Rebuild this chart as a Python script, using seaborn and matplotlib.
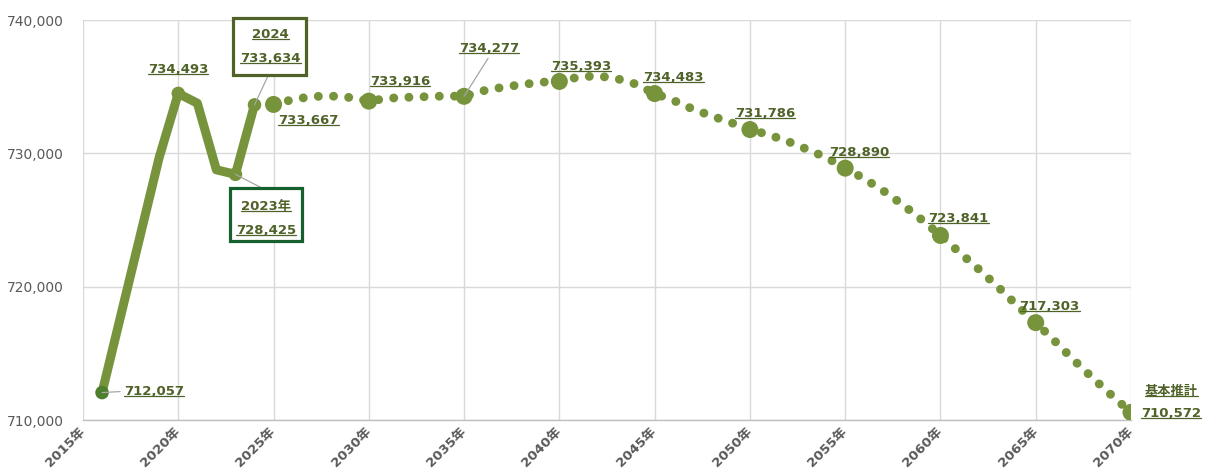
import matplotlib
matplotlib.use("Agg")
import matplotlib.pyplot as plt
import seaborn as sns
from matplotlib.lines import Line2D
from matplotlib.patches import Rectangle
from matplotlib.transforms import IdentityTransform

# ---------------- data ----------------
actual_years = [2016, 2019, 2020, 2021, 2022, 2023, 2024]
actual_values = [712057, 729700, 734493, 733760, 728764, 728425, 733634]
actual_marker_years = [2016, 2020, 2023, 2024]

proj_years = list(range(2025, 2071))
proj_values = [733667, 734030, 734260, 734300, 734190, 733916, 734130, 734200, 734250, 734300,
               734277, 734690, 734950, 735150, 735330, 735393, 735720, 735810, 735610, 735200,
               734483, 733960, 733320, 732800, 732310, 731786, 731390, 730890, 730300, 729690,
               728890, 728100, 727190, 726170, 725040, 723841, 722570, 721320, 720010, 718620,
               717303, 715920, 714490, 713140, 711830, 710572]
proj_marker_years = [2025, 2030, 2035, 2040, 2045, 2050, 2055, 2060, 2065, 2070]

x_ticks = [2015, 2020, 2025, 2030, 2035, 2040, 2045, 2050, 2055, 2060, 2065, 2070]
x_tick_labels = [f"{y}年" for y in x_ticks]
y_ticks = [710000, 720000, 730000, 740000]
y_tick_labels = [f"{v:,}" for v in y_ticks]
series_name = "基本推計"

# ---------------- style ----------------
sns.set_style("white")
plt.rcParams['font.family'] = ['DejaVu Sans', 'Noto Sans CJK JP']

GREEN = '#77933C'
DARK_MARK = '#4E7F2C'
LABEL_C = '#4F6228'
GRID_C = '#D9D9D9'
TICK_C = '#595959'

fig = plt.figure(figsize=(12.1, 4.72), dpi=100)
ax = fig.add_axes([83 / 1210, 52 / 472, 1048 / 1210, 400 / 472])

# solid actual line
sns.lineplot(x=actual_years, y=actual_values, ax=ax, color=GREEN, lw=6.5,
             solid_joinstyle='round', solid_capstyle='round', zorder=3)
# dotted projection line
sns.lineplot(x=proj_years, y=proj_values, ax=ax, color=GREEN, lw=6.4, zorder=3)
pl = ax.lines[-1]
pl.set_linestyle((0, (0.01, 1.7)))
pl.set_dash_capstyle('round')

# markers
a_lookup = dict(zip(actual_years, actual_values))
p_lookup = dict(zip(proj_years, proj_values))
am_x = actual_marker_years
am_y = [a_lookup[y] for y in am_x]
mcolors = [DARK_MARK if y == actual_years[0] else GREEN for y in am_x]
for xx, yy, cc in zip(am_x, am_y, mcolors):
    ax.scatter([xx], [yy], s=95, color=cc, edgecolor='none', zorder=4)
pm_y = [p_lookup[y] for y in proj_marker_years]
sns.scatterplot(x=proj_marker_years, y=pm_y, ax=ax, s=150, color=GREEN,
                edgecolor='none', zorder=4, legend=False)

# axes
ax.set_xlim(2015, 2070)
ax.set_ylim(710000, 740000)
ax.set_xticks(x_ticks)
ax.set_xticklabels(x_tick_labels, rotation=45, ha='right', va='center',
                   rotation_mode='anchor', fontsize=9.5, fontweight='bold', color=TICK_C)
ax.set_yticks(y_ticks)
ax.set_yticklabels(y_tick_labels, fontsize=10, color=TICK_C)
ax.tick_params(axis='both', length=0)
ax.tick_params(axis='y', pad=14)
ax.tick_params(axis='x', pad=7)
ax.grid(True, color=GRID_C, lw=1.0, zorder=0)
ax.set_axisbelow(True)
for s in ['top', 'right', 'left']:
    ax.spines[s].set_visible(False)
ax.spines['bottom'].set_color('#BFBFBF')
ax.spines['bottom'].set_linewidth(1.0)
ax.set_xlabel('')
ax.set_ylabel('')

underlined = []
lab_kw = dict(textcoords='offset pixels', ha='center', va='center', fontsize=9.5,
              fontweight='bold', color=LABEL_C, zorder=8, annotation_clip=False)
leader = dict(arrowstyle='-', color='#A6A6A6', lw=0.9, shrinkA=0, shrinkB=0)

def label(year, value, dx, dy, text=None, ha='center'):
    kw = dict(lab_kw)
    kw['ha'] = ha
    t = ax.annotate(text if text is not None else f"{value:,}", xy=(year, value),
                    xytext=(dx, dy), **kw)
    underlined.append(t)
    return t

def lead(year, value, dx1, dy1):
    ax.annotate('', xy=(year, value), xytext=(dx1, dy1), textcoords='offset pixels',
                arrowprops=dict(leader), zorder=5, annotation_clip=False)

# first point
lead(actual_years[0], actual_values[0], 18, 1)
label(actual_years[0], actual_values[0], 22, 1, ha='left')
# 2020 peak
label(2020, a_lookup[2020], 0, 24)

# projection labels
proj_offsets = {2025: (35, -16), 2030: (31, 20), 2035: (25, 48), 2040: (22, 15),
                2045: (19, 16), 2050: (15, 16), 2055: (14, 16), 2060: (18, 17),
                2065: (14, 16), 2070: (40, -1)}
lead(2035, p_lookup[2035], 24, 38)
for yr in proj_marker_years:
    dx, dy = proj_offsets[yr]
    label(yr, p_lookup[yr], dx, dy)
label(2070, p_lookup[2070], 40, 21, text=series_name)

# boxed labels
lead(2024, a_lookup[2024], 14, 30)
label(2024, a_lookup[2024], 16, 70, text="2024")
label(2024, a_lookup[2024], 16, 46)
lead(2023, a_lookup[2023], 27, -14)
label(2023, a_lookup[2023], 31, -32, text="2023年")
label(2023, a_lookup[2023], 31, -56)

fig.canvas.draw()
renderer = fig.canvas.get_renderer()

def box(year, value, x0, x1, ytop, ybot, color):
    px, py = ax.transData.transform((year, value))
    r = Rectangle((px + x0, py - ybot), x1 - x0, ybot - ytop, transform=IdentityTransform(),
                  fill=True, facecolor='white', edgecolor=color, lw=2.3, zorder=6,
                  clip_on=False)
    ax.add_artist(r)

box(2024, a_lookup[2024], -21, 52, -87, -30, '#4F6228')
box(2023, a_lookup[2023], -5, 67, 14, 67, '#16602E')

for t in underlined:
    bb = t.get_window_extent(renderer)
    yline = bb.y0 + 2
    ln = Line2D([bb.x0, bb.x1], [yline, yline], transform=IdentityTransform(),
                color=LABEL_C, lw=0.9, zorder=9, clip_on=False)
    ax.add_artist(ln)

fig.savefig('out.png', dpi=100)
